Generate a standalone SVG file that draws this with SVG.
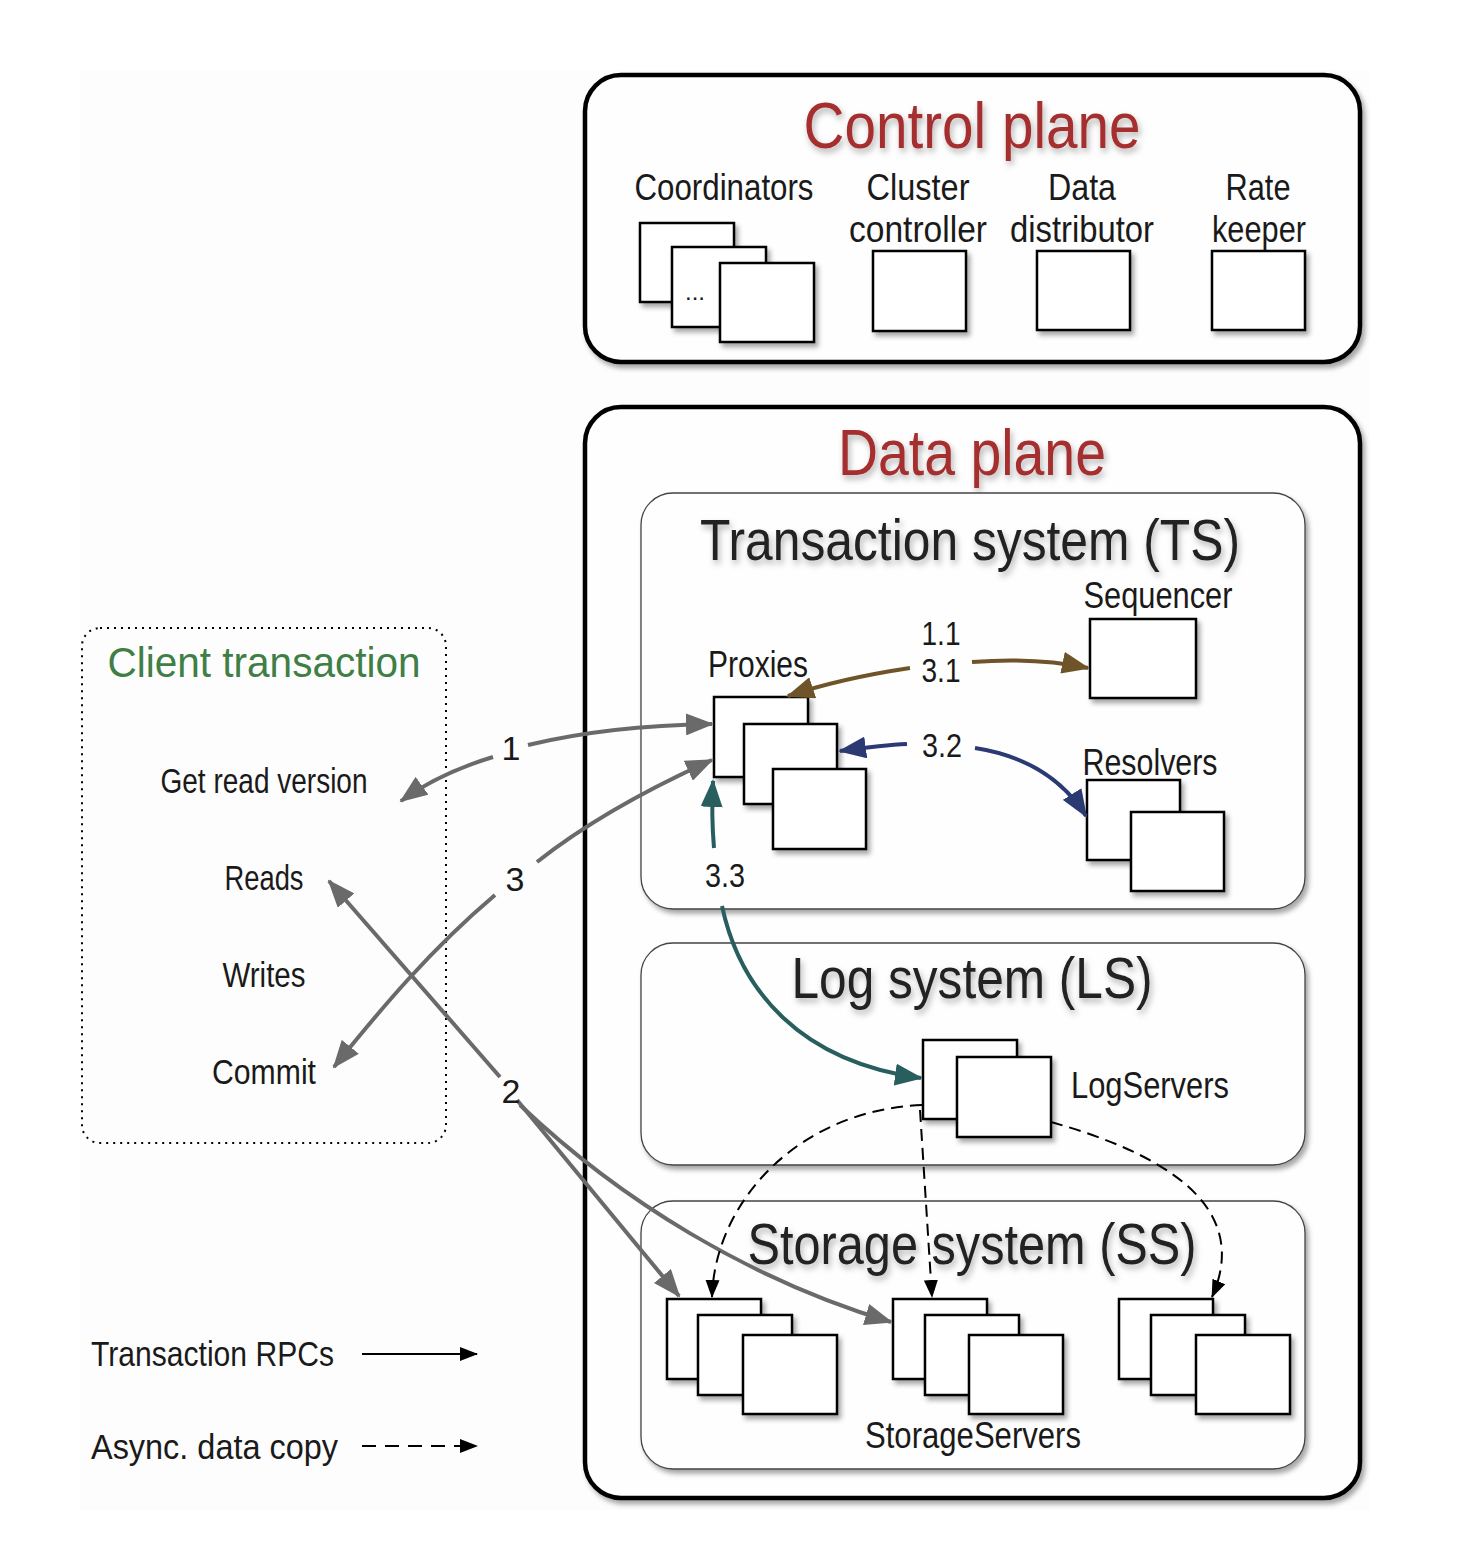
<svg xmlns="http://www.w3.org/2000/svg" width="1458" height="1544" viewBox="0 0 1458 1544">
<defs>
<filter id="sh" x="-20%" y="-20%" width="150%" height="150%"><feDropShadow dx="3" dy="4" stdDeviation="2.5" flood-color="#000" flood-opacity="0.35"/></filter>
<filter id="tsh" x="-10%" y="-20%" width="120%" height="160%"><feDropShadow dx="2" dy="4" stdDeviation="3" flood-color="#000" flood-opacity="0.3"/></filter>
<marker id="ag" markerUnits="userSpaceOnUse" markerWidth="28" markerHeight="22" refX="26" refY="11" orient="auto"><path d="M0,0 L28,11 L0,22 z" fill="#6a6a6a"/></marker>
<marker id="ab" markerUnits="userSpaceOnUse" markerWidth="28" markerHeight="22" refX="26" refY="11" orient="auto"><path d="M0,0 L28,11 L0,22 z" fill="#6e5428"/></marker>
<marker id="an" markerUnits="userSpaceOnUse" markerWidth="28" markerHeight="22" refX="26" refY="11" orient="auto"><path d="M0,0 L28,11 L0,22 z" fill="#2b3a72"/></marker>
<marker id="at" markerUnits="userSpaceOnUse" markerWidth="28" markerHeight="22" refX="26" refY="11" orient="auto"><path d="M0,0 L28,11 L0,22 z" fill="#285e5e"/></marker>
<marker id="ak" markerUnits="userSpaceOnUse" markerWidth="18" markerHeight="14" refX="17" refY="7" orient="auto"><path d="M0,0 L18,7 L0,14 z" fill="#000"/></marker>
</defs>
<style>
text{font-family:"Liberation Sans",Arial,sans-serif;fill:#1a1a1a}
.title{fill:#a52f2f;font-size:64px}
.sub{font-size:57px;fill:#222}
.lbl{font-size:36px}
.cl{font-size:35px}
.num{font-size:34px}
.box{fill:#fff;stroke:#000;stroke-width:2.5}
.outer{fill:#fefefe;stroke:#000;stroke-width:4.5}
.inner{fill:#fefefe;stroke:#444;stroke-width:1.3}
.cg{fill:none;stroke:#6a6a6a;stroke-width:4}
.dash{fill:none;stroke:#000;stroke-width:2;stroke-dasharray:12 7}
</style>
<rect x="80" y="70" width="1290" height="1440" fill="#fdfdfd"/>

<g id="control-plane">
<rect class="outer" x="585" y="75" width="775" height="287" rx="36" filter="url(#sh)"/>
<text class="title" x="972" y="148" text-anchor="middle" textLength="337" lengthAdjust="spacingAndGlyphs" filter="url(#tsh)">Control plane</text>
</g>
<g id="coordinators">
<text class="lbl" x="724" y="200" text-anchor="middle" textLength="179" lengthAdjust="spacingAndGlyphs">Coordinators</text>
<rect class="box" x="640" y="223" width="94" height="79" filter="url(#sh)"/>
<rect class="box" x="672" y="247" width="94" height="80" filter="url(#sh)"/>
<text x="695" y="300" text-anchor="middle" font-size="24">...</text>
<rect class="box" x="720" y="263" width="94" height="79" filter="url(#sh)"/>
</g>
<g id="cluster-controller">
<text class="lbl" x="918" y="200" text-anchor="middle" textLength="103" lengthAdjust="spacingAndGlyphs">Cluster</text>
<text class="lbl" x="918" y="242" text-anchor="middle" textLength="138" lengthAdjust="spacingAndGlyphs">controller</text>
<rect class="box" x="873" y="251" width="93" height="80" filter="url(#sh)"/>
</g>
<g id="data-distributor">
<text class="lbl" x="1082" y="200" text-anchor="middle" textLength="68" lengthAdjust="spacingAndGlyphs">Data</text>
<text class="lbl" x="1082" y="242" text-anchor="middle" textLength="144" lengthAdjust="spacingAndGlyphs">distributor</text>
<rect class="box" x="1037" y="251" width="93" height="79" filter="url(#sh)"/>
</g>
<g id="rate-keeper">
<text class="lbl" x="1258" y="200" text-anchor="middle" textLength="65" lengthAdjust="spacingAndGlyphs">Rate</text>
<text class="lbl" x="1259" y="242" text-anchor="middle" textLength="94" lengthAdjust="spacingAndGlyphs">keeper</text>
<rect class="box" x="1212" y="251" width="93" height="79" filter="url(#sh)"/>
</g>

<g id="data-plane">
<rect class="outer" x="585" y="407" width="775" height="1091" rx="36" filter="url(#sh)"/>
<text class="title" x="972" y="475" text-anchor="middle" textLength="268" lengthAdjust="spacingAndGlyphs" filter="url(#tsh)">Data plane</text>
</g>
<g id="transaction-system">
<rect class="inner" x="641" y="493" width="664" height="416" rx="32" filter="url(#sh)"/>
<text class="sub" x="970" y="560" text-anchor="middle" textLength="540" lengthAdjust="spacingAndGlyphs" filter="url(#tsh)">Transaction system (TS)</text>
</g>
<g id="log-system">
<rect class="inner" x="641" y="943" width="664" height="222" rx="32" filter="url(#sh)"/>
<text class="sub" x="972" y="998" text-anchor="middle" textLength="361" lengthAdjust="spacingAndGlyphs" filter="url(#tsh)">Log system (LS)</text>
</g>
<g id="storage-system">
<rect class="inner" x="641" y="1201" width="664" height="268" rx="32" filter="url(#sh)"/>
<text class="sub" x="972" y="1264" text-anchor="middle" textLength="449" lengthAdjust="spacingAndGlyphs" filter="url(#tsh)">Storage system (SS)</text>
</g>

<g id="sequencer">
<text class="lbl" x="1158" y="608" text-anchor="middle" textLength="149" lengthAdjust="spacingAndGlyphs">Sequencer</text>
<rect class="box" x="1090" y="619" width="106" height="79" filter="url(#sh)"/>
</g>
<g id="proxies">
<text class="lbl" x="758" y="677" text-anchor="middle" textLength="100" lengthAdjust="spacingAndGlyphs">Proxies</text>
<rect class="box" x="714" y="697" width="94" height="80" filter="url(#sh)"/>
<rect class="box" x="744" y="724" width="93" height="80" filter="url(#sh)"/>
<rect class="box" x="773" y="769" width="93" height="80" filter="url(#sh)"/>
</g>
<g id="resolvers">
<text class="lbl" x="1150" y="775" text-anchor="middle" textLength="135" lengthAdjust="spacingAndGlyphs">Resolvers</text>
<rect class="box" x="1087" y="780" width="93" height="80" filter="url(#sh)"/>
<rect class="box" x="1131" y="812" width="93" height="79" filter="url(#sh)"/>
</g>
<g id="logservers">
<rect class="box" x="923" y="1040" width="94" height="79" filter="url(#sh)"/>
<rect class="box" x="957" y="1057" width="94" height="80" filter="url(#sh)"/>
<text class="lbl" x="1071" y="1098" textLength="158" lengthAdjust="spacingAndGlyphs">LogServers</text>
</g>
<g id="storageservers-1">
<rect class="box" x="667" y="1299" width="94" height="80" filter="url(#sh)"/>
<rect class="box" x="698" y="1315" width="94" height="80" filter="url(#sh)"/>
<rect class="box" x="743" y="1335" width="94" height="79" filter="url(#sh)"/>
</g>
<g id="storageservers-2">
<rect class="box" x="893" y="1299" width="94" height="80" filter="url(#sh)"/>
<rect class="box" x="925" y="1315" width="94" height="80" filter="url(#sh)"/>
<rect class="box" x="969" y="1335" width="94" height="79" filter="url(#sh)"/>
</g>
<g id="storageservers-3">
<rect class="box" x="1119" y="1299" width="94" height="80" filter="url(#sh)"/>
<rect class="box" x="1151" y="1315" width="94" height="80" filter="url(#sh)"/>
<rect class="box" x="1196" y="1335" width="94" height="79" filter="url(#sh)"/>
</g>
<text class="lbl" x="973" y="1448" text-anchor="middle" textLength="216" lengthAdjust="spacingAndGlyphs">StorageServers</text>

<g id="client-transaction">
<rect x="82" y="628" width="364" height="515" rx="18" fill="none" stroke="#000" stroke-width="2" stroke-dasharray="2 5"/>
<text x="264" y="677" text-anchor="middle" font-size="43" style="fill:#3f7f45" textLength="313" lengthAdjust="spacingAndGlyphs">Client transaction</text>
<text class="cl" x="264" y="793" text-anchor="middle" textLength="207" lengthAdjust="spacingAndGlyphs">Get read version</text>
<text class="cl" x="264" y="890" text-anchor="middle" textLength="79" lengthAdjust="spacingAndGlyphs">Reads</text>
<text class="cl" x="264" y="987" text-anchor="middle" textLength="83" lengthAdjust="spacingAndGlyphs">Writes</text>
<text class="cl" x="264" y="1084" text-anchor="middle" textLength="104" lengthAdjust="spacingAndGlyphs">Commit</text>
</g>

<g id="legend">
<text class="cl" x="91" y="1366" textLength="243" lengthAdjust="spacingAndGlyphs">Transaction RPCs</text>
<path d="M362 1354 L477 1354" stroke="#000" stroke-width="2" marker-end="url(#ak)"/>
<text class="cl" x="91" y="1459" textLength="247" lengthAdjust="spacingAndGlyphs">Async. data copy</text>
<path d="M362 1446 L477 1446" fill="none" stroke="#000" stroke-width="2" stroke-dasharray="14 9" marker-end="url(#ak)"/>
</g>

<g id="connectors">
<path class="cg" d="M528 745 C590 730 650 725 712 724" marker-end="url(#ag)"/>
<path class="cg" d="M493 757 C460 767 430 780 401 801" marker-end="url(#ag)"/>
<path class="cg" d="M537 862 C590 820 650 788 712 760" marker-end="url(#ag)"/>
<path class="cg" d="M495 895 C430 950 380 1010 334 1067" marker-end="url(#ag)"/>
<path class="cg" d="M500 1077 L329 881" marker-end="url(#ag)"/>
<path class="cg" d="M517 1100 L679 1296" marker-end="url(#ag)"/>
<path class="cg" d="M520 1105 C620 1200 750 1280 891 1322" marker-end="url(#ag)"/>
<path d="M910 668 C870 674 830 682 788 696" fill="none" stroke="#6e5428" stroke-width="4" marker-end="url(#ab)"/>
<path d="M972 662 C1010 659 1050 660 1088 668" fill="none" stroke="#6e5428" stroke-width="4" marker-end="url(#ab)"/>
<path d="M907 744 C885 745 862 748 840 751" fill="none" stroke="#2b3a72" stroke-width="4" marker-end="url(#an)"/>
<path d="M975 748 C1020 755 1060 775 1086 816" fill="none" stroke="#2b3a72" stroke-width="4" marker-end="url(#an)"/>
<path d="M714 848 C712 825 712 800 713 781" fill="none" stroke="#285e5e" stroke-width="4" marker-end="url(#at)"/>
<path d="M722 906 C740 990 800 1062 921 1078" fill="none" stroke="#285e5e" stroke-width="4" marker-end="url(#at)"/>
<path class="dash" d="M922 1105 C800 1110 715 1200 712 1297" marker-end="url(#ak)"/>
<path class="dash" d="M920 1110 L932 1297" marker-end="url(#ak)"/>
<path class="dash" d="M1051 1122 C1150 1150 1255 1200 1212 1297" marker-end="url(#ak)"/>
<text class="num" x="511" y="760" text-anchor="middle">1</text>
<text class="num" x="515" y="891" text-anchor="middle">3</text>
<text class="num" x="511" y="1103" text-anchor="middle">2</text>
<text class="num" x="941" y="645" text-anchor="middle" textLength="39" lengthAdjust="spacingAndGlyphs">1.1</text>
<text class="num" x="941" y="682" text-anchor="middle" textLength="39" lengthAdjust="spacingAndGlyphs">3.1</text>
<text class="num" x="942" y="757" text-anchor="middle" textLength="40" lengthAdjust="spacingAndGlyphs">3.2</text>
<text class="num" x="725" y="887" text-anchor="middle" textLength="40" lengthAdjust="spacingAndGlyphs">3.3</text>
</g>
</svg>
